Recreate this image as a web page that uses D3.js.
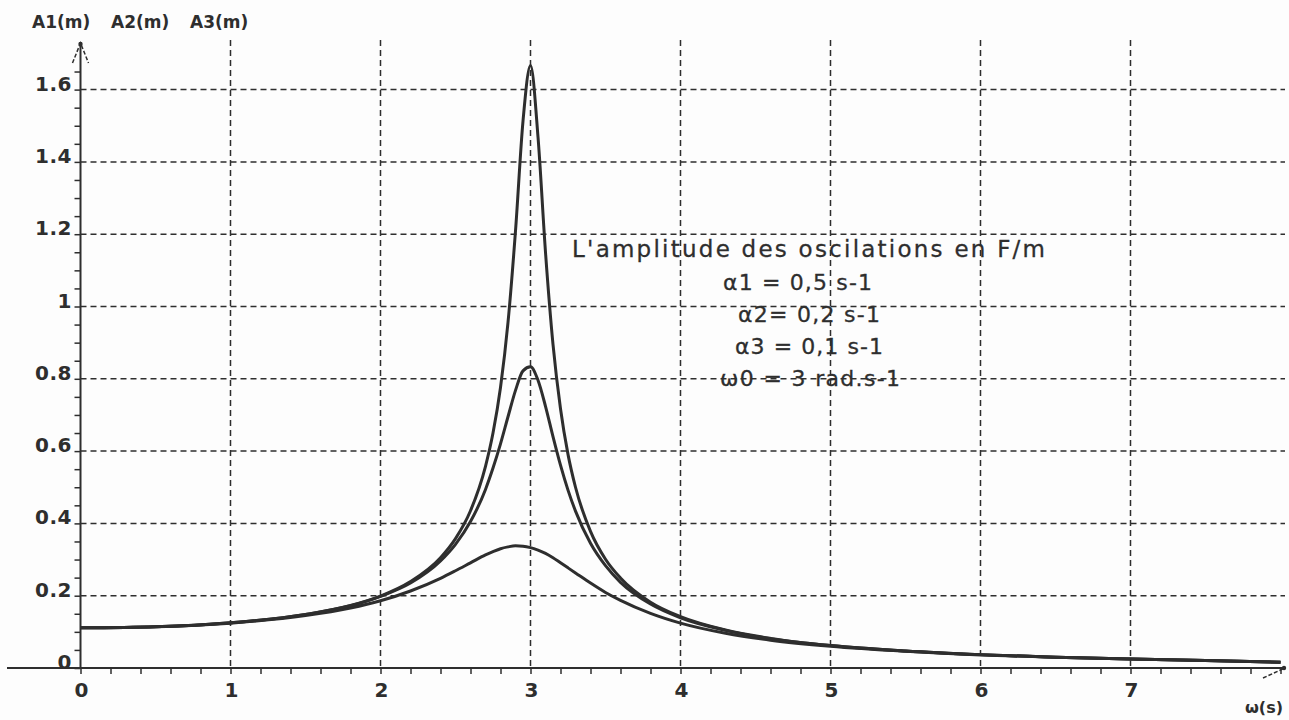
<!DOCTYPE html>
<html>
<head>
<meta charset="utf-8">
<script src="https://cdn.jsdelivr.net/npm/d3@7"></script>
<style>
  body { margin: 0; background: #fff; }
  svg { display: block; }
</style>
</head>
<body>
<div id="chart"></div>
<script>
// pulsation (rad/s) en abscisse
const omega = [0, 0.5, 1.0, 1.5, 1.8, 2.0, 2.2, 2.4, 2.5, 2.6, 2.7, 2.75, 2.8, 2.85, 2.9, 2.95,
  3.0, 3.05, 3.1, 3.15, 3.2, 3.25, 3.3, 3.4, 3.5, 3.6, 3.8, 4.0, 4.3, 4.6, 5.0, 5.5, 6.0, 6.5, 7.0, 7.5, 8.0];

// amplitudes (m)
const ampA1 = [0.111, 0.114, 0.124, 0.145, 0.166, 0.186, 0.213, 0.248, 0.269, 0.291, 0.313, 0.322, 0.330, 0.335, 0.338, 0.337,
  0.333, 0.326, 0.317, 0.305, 0.291, 0.277, 0.263, 0.235, 0.209, 0.187, 0.151, 0.124, 0.096, 0.077, 0.060, 0.046, 0.036, 0.030, 0.025, 0.021, 0.016];
const ampA2 = [0.111, 0.114, 0.125, 0.148, 0.172, 0.198, 0.235, 0.296, 0.342, 0.405, 0.494, 0.553, 0.620, 0.695, 0.768, 0.822,
  0.833, 0.796, 0.724, 0.640, 0.561, 0.492, 0.434, 0.345, 0.283, 0.237, 0.177, 0.139, 0.104, 0.081, 0.062, 0.047, 0.037, 0.030, 0.025, 0.021, 0.016];
const ampA3 = [0.111, 0.114, 0.125, 0.148, 0.173, 0.199, 0.239, 0.305, 0.358, 0.435, 0.558, 0.650, 0.776, 0.956, 1.209, 1.513,
  1.667, 1.469, 1.150, 0.895, 0.717, 0.591, 0.500, 0.378, 0.301, 0.249, 0.182, 0.142, 0.105, 0.082, 0.062, 0.047, 0.037, 0.030, 0.025, 0.021, 0.016];

// graduations
const yTickValues = [0, 0.2, 0.4, 0.6, 0.8, 1, 1.2, 1.4, 1.6];
const yTickLabels = ["0", "0.2", "0.4", "0.6", "0.8", "1", "1.2", "1.4", "1.6"];
const xTickValues = [0, 1, 2, 3, 4, 5, 6, 7];
const xTickLabels = ["0", "1", "2", "3", "4", "5", "6", "7"];
const seriesNames = ["A1(m)", "A2(m)", "A3(m)"];

// texte d'annotation
const noteTexts = [
  "L'amplitude des oscilations en F/m",
  "\u03b11 = 0,5 s-1",
  "\u03b12= 0,2 s-1",
  "\u03b13 = 0,1 s-1",
  "\u03c90 = 3 rad.s-1"
];

const W = 1289, H = 720;
const ink = "#2e2e2e";

// position, largeur et taille de chaque ligne d'annotation
const noteLayout = [
  { x: 572, y: 257, w: 473, size: 23 },
  { x: 723, y: 290, w: 149, size: 22 },
  { x: 738, y: 322, w: 142, size: 22 },
  { x: 735, y: 354, w: 148, size: 22 },
  { x: 720, y: 386, w: 180, size: 22 }
];

const svg = d3.select("#chart")
  .append("svg")
  .attr("width", W)
  .attr("height", H);

svg.append("rect").attr("width", W).attr("height", H).attr("fill", "#fdfdfd");

// échelles
const x = d3.scaleLinear().domain([0, 8]).range([80.5, 1280.5]);
const y = d3.scaleLinear().domain([0, 1.6]).range([668, 89.6]);

const axisFont = "DejaVu Sans, Verdana, sans-serif";

// grille pointillée
svg.append("g")
  .selectAll("line")
  .data(xTickValues.filter(d => d > 0))
  .join("line")
  .attr("x1", d => x(d)).attr("x2", d => x(d))
  .attr("y1", 40).attr("y2", y(0))
  .attr("stroke", ink).attr("stroke-width", 1.5)
  .attr("stroke-dasharray", "6,4");

svg.append("g")
  .selectAll("line")
  .data(yTickValues.filter(d => d > 0))
  .join("line")
  .attr("x1", x(0)).attr("x2", 1285)
  .attr("y1", d => y(d)).attr("y2", d => y(d))
  .attr("stroke", ink).attr("stroke-width", 1.5)
  .attr("stroke-dasharray", "6,4");

// petites graduations
const xMinor = svg.append("g")
  .attr("transform", `translate(0,${y(0)})`)
  .call(d3.axisBottom(x).tickValues(d3.range(0, 8.01, 0.2)).tickSize(6).tickFormat(""));
xMinor.select(".domain").remove();
xMinor.selectAll("line").attr("stroke", ink).attr("stroke-width", 1.5);

const yMinor = svg.append("g")
  .attr("transform", `translate(${x(0)},0)`)
  .call(d3.axisLeft(y).tickValues(d3.range(0, 1.66, 0.05)).tickSize(6).tickFormat(""));
yMinor.select(".domain").remove();
yMinor.selectAll("line").attr("stroke", ink).attr("stroke-width", 1.5);

// axes
svg.append("line")
  .attr("x1", 7).attr("x2", 1285)
  .attr("y1", y(0)).attr("y2", y(0))
  .attr("stroke", ink).attr("stroke-width", 2);

svg.append("line")
  .attr("x1", x(0)).attr("x2", x(0))
  .attr("y1", y(0)).attr("y2", 42)
  .attr("stroke", ink).attr("stroke-width", 2);

// flèches
svg.append("path")
  .attr("d", `M${x(0) - 8},63 L${x(0)},43 L${x(0) + 8},63`)
  .attr("fill", "none").attr("stroke", ink).attr("stroke-width", 1.5)
  .attr("stroke-dasharray", "4,2");
svg.append("circle").attr("cx", x(0)).attr("cy", 44).attr("r", 2.2).attr("fill", ink);
svg.append("path")
  .attr("d", `M1263,678 L1285,${y(0)}`)
  .attr("fill", "none").attr("stroke", ink).attr("stroke-width", 1.5)
  .attr("stroke-dasharray", "4,2");
svg.append("circle").attr("cx", 1284).attr("cy", y(0)).attr("r", 2.2).attr("fill", ink);

// libellés des axes
svg.append("g")
  .selectAll("text")
  .data(yTickValues)
  .join("text")
  .attr("x", 72)
  .attr("y", d => y(d) + 1)
  .attr("text-anchor", "end")
  .attr("font-family", axisFont)
  .attr("font-weight", "bold")
  .attr("font-size", 20)
  .attr("letter-spacing", 0.5)
  .attr("fill", ink)
  .text((d, i) => yTickLabels[i]);

svg.append("g")
  .selectAll("text")
  .data(xTickValues)
  .join("text")
  .attr("x", d => x(d) + 1)
  .attr("y", 697)
  .attr("text-anchor", "middle")
  .attr("font-family", axisFont)
  .attr("font-weight", "bold")
  .attr("font-size", 20)
  .attr("fill", ink)
  .text((d, i) => xTickLabels[i]);

svg.append("g")
  .selectAll("text")
  .data(seriesNames)
  .join("text")
  .attr("x", (d, i) => 32 + i * 79)
  .attr("y", 28)
  .attr("font-family", axisFont)
  .attr("font-weight", "bold")
  .attr("font-size", 17)
  .attr("fill", ink)
  .text(d => d);

svg.append("text")
  .attr("x", 1283)
  .attr("y", 713)
  .attr("text-anchor", "end")
  .attr("font-family", axisFont)
  .attr("font-weight", "bold")
  .attr("font-size", 16)
  .attr("fill", ink)
  .text("\u03c9(s)");

// courbes de résonance
const line = d3.line()
  .x((d, i) => x(omega[i]))
  .y(d => y(d))
  .curve(d3.curveMonotoneX);

[ampA1, ampA2, ampA3].forEach(serie => {
  svg.append("path")
    .datum(serie)
    .attr("d", line)
    .attr("fill", "none")
    .attr("stroke", ink)
    .attr("stroke-width", 3)
    .attr("stroke-linejoin", "round");
});

// annotation
svg.append("g")
  .selectAll("text")
  .data(noteTexts)
  .join("text")
  .attr("x", (d, i) => noteLayout[i].x)
  .attr("y", (d, i) => noteLayout[i].y)
  .attr("textLength", (d, i) => noteLayout[i].w)
  .attr("lengthAdjust", "spacing")
  .attr("font-family", axisFont)
  .attr("font-size", (d, i) => noteLayout[i].size)
  .attr("stroke", ink)
  .attr("stroke-width", 0.3)
  .attr("fill", ink)
  .text(d => d);
</script>
</body>
</html>
